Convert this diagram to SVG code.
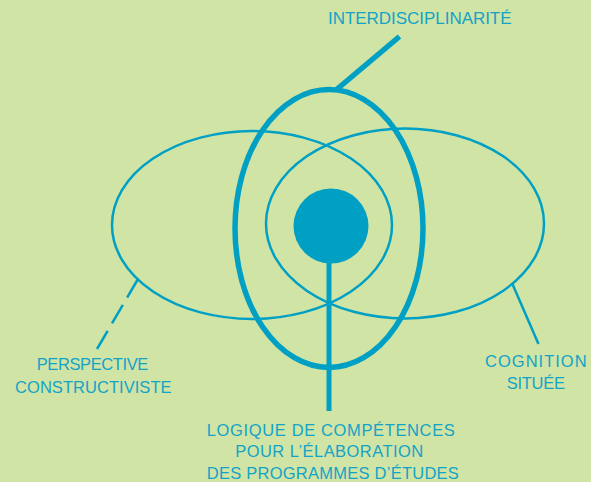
<svg xmlns="http://www.w3.org/2000/svg" width="591" height="482" viewBox="0 0 591 482">
<style>
.thin{fill:none;stroke:#00A0C4;stroke-width:2.5}
.thick{fill:none;stroke:#00A0C4;stroke-width:5.5}
.lbl{font-family:"Liberation Sans",Arial,sans-serif;font-size:16.5px;fill:#13A3C7;text-anchor:middle}
</style>
<rect x="0" y="0" width="591" height="482" fill="#D0E4A6"/>
<g id="perspective-constructiviste">
<ellipse class="thin" cx="252" cy="225" rx="140" ry="94"/>
<text class="lbl" x="92.5" y="370" textLength="111.5" lengthAdjust="spacing">PERSPECTIVE</text>
<text class="lbl" x="93.3" y="392.5" textLength="156.5" lengthAdjust="spacing">CONSTRUCTIVISTE</text>
</g>
<g id="cognition-situee">
<ellipse class="thin" cx="405" cy="223.5" rx="139" ry="95"/>
<text class="lbl" x="535.8" y="366.5" textLength="101.5" lengthAdjust="spacing">COGNITION</text>
<text class="lbl" x="535.8" y="389" textLength="58.3" lengthAdjust="spacing">SITUÉE</text>
</g>
<g id="interdisciplinarite">
<ellipse class="thick" cx="329" cy="228.5" rx="94" ry="139"/>
<text class="lbl" x="419.8" y="24" style="font-size:17px" textLength="183.5" lengthAdjust="spacing">INTERDISCIPLINARITÉ</text>
</g>
<g id="logique-competences">
<circle cx="331" cy="226" r="37.5" fill="#00A0C4"/>
<text class="lbl" x="330.8" y="436" textLength="248" lengthAdjust="spacing">LOGIQUE DE COMPÉTENCES</text>
<text class="lbl" x="329.2" y="457" textLength="188" lengthAdjust="spacing">POUR L’ÉLABORATION</text>
<text class="lbl" x="332.8" y="478.5" textLength="252" lengthAdjust="spacing">DES PROGRAMMES D’ÉTUDES</text>
</g>
<g id="connectors">
<line class="thin" x1="138" y1="279" x2="97" y2="349" stroke-dasharray="21.5 8.5"/>
<line class="thin" x1="512" y1="283" x2="538.5" y2="344"/>
<line x1="399.5" y1="36.5" x2="336" y2="90" stroke="#00A0C4" stroke-width="5.5"/>
<line x1="329" y1="255" x2="329" y2="411" stroke="#00A0C4" stroke-width="5"/>
</g>
</svg>
